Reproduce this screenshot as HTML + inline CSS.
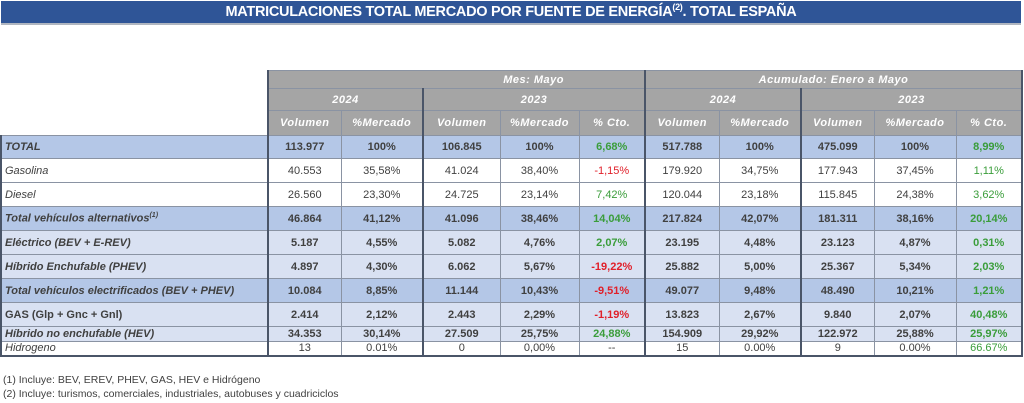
<!DOCTYPE html>
<html><head><meta charset="utf-8">
<style>
body{margin:0;width:1024px;height:403px;background:#fff;font-family:"Liberation Sans",sans-serif;overflow:hidden;position:relative}
.title{position:absolute;left:1px;top:1px;width:1020px;height:22px;background:#2f5597;border-bottom:2px solid #b0b6c0;color:#fff;font-weight:bold;font-size:14.5px;text-align:center;line-height:23px;letter-spacing:-0.3px}
.title sup{font-size:9px;vertical-align:6px;line-height:0}
table{position:absolute;left:0;top:70px;border-collapse:collapse;table-layout:fixed;font-size:11px;color:#404040}
td{border:1px solid #8a93a3;padding:0;text-align:center;white-space:nowrap;overflow:hidden}
td.l{text-align:left;padding-left:3px;font-style:italic}
.h td{background:#a5a5a5;color:#fff;font-style:italic;font-weight:bold;letter-spacing:0.5px}
table tr td.e{border:none;background:#fff}
.b td{background:#b4c7e7;font-weight:bold}
.lt td{background:#d9e1f2;font-weight:bold}
.w td{background:#fff}
.g{color:#3a9d3a!important}
.r{color:#e0202a!important}
.gl{border-left:2px solid #4a5568}
td.first{border-left:2px solid #4a5568}
td.last{border-right:2px solid #4a5568}
.foot{position:absolute;left:3px;font-size:10.5px;color:#404040}
</style></head><body>
<div class="title">MATRICULACIONES TOTAL MERCADO POR FUENTE DE ENERGÍA<sup>(2)</sup>. TOTAL ESPAÑA</div>
<table>
<colgroup><col style="width:267px"><col style="width:73px"><col style="width:82px"><col style="width:77px"><col style="width:79px"><col style="width:66px"><col style="width:74px"><col style="width:82px"><col style="width:73px"><col style="width:82px"><col style="width:66px"></colgroup>
<tr class="h" style="height:18px"><td class="e"></td><td colspan="5" class="gl" style="text-align:right;padding-right:80px">Mes: Mayo</td><td colspan="5" class="gl last">Acumulado: Enero a Mayo</td></tr>
<tr class="h" style="height:22px"><td class="e"></td><td colspan="2" class="gl">2024</td><td colspan="3" class="gl">2023</td><td colspan="2" class="gl">2024</td><td colspan="3" class="gl last">2023</td></tr>
<tr class="h" style="height:25px"><td class="e"></td><td class="gl">Volumen</td><td>%Mercado</td><td class="gl">Volumen</td><td>%Mercado</td><td>% Cto.</td><td class="gl">Volumen</td><td>%Mercado</td><td class="gl">Volumen</td><td>%Mercado</td><td class="last">% Cto.</td></tr>
<tr class="b" style="height:23px"><td class="l first">TOTAL</td><td class="gl">113.977</td><td>100%</td><td class="gl">106.845</td><td>100%</td><td class="g">6,68%</td><td class="gl">517.788</td><td>100%</td><td class="gl">475.099</td><td>100%</td><td class="g last">8,99%</td></tr>
<tr class="w" style="height:24px"><td class="l first">Gasolina</td><td class="gl">40.553</td><td>35,58%</td><td class="gl">41.024</td><td>38,40%</td><td class="r">-1,15%</td><td class="gl">179.920</td><td>34,75%</td><td class="gl">177.943</td><td>37,45%</td><td class="g last">1,11%</td></tr>
<tr class="w" style="height:24px"><td class="l first">Diesel</td><td class="gl">26.560</td><td>23,30%</td><td class="gl">24.725</td><td>23,14%</td><td class="g">7,42%</td><td class="gl">120.044</td><td>23,18%</td><td class="gl">115.845</td><td>24,38%</td><td class="g last">3,62%</td></tr>
<tr class="b" style="height:24px"><td class="l first">Total vehículos alternativos<sup style="font-size:7px">(1)</sup></td><td class="gl">46.864</td><td>41,12%</td><td class="gl">41.096</td><td>38,46%</td><td class="g">14,04%</td><td class="gl">217.824</td><td>42,07%</td><td class="gl">181.311</td><td>38,16%</td><td class="g last">20,14%</td></tr>
<tr class="lt" style="height:24px"><td class="l first">Eléctrico (BEV + E-REV)</td><td class="gl">5.187</td><td>4,55%</td><td class="gl">5.082</td><td>4,76%</td><td class="g">2,07%</td><td class="gl">23.195</td><td>4,48%</td><td class="gl">23.123</td><td>4,87%</td><td class="g last">0,31%</td></tr>
<tr class="lt" style="height:24px"><td class="l first">Híbrido Enchufable (PHEV)</td><td class="gl">4.897</td><td>4,30%</td><td class="gl">6.062</td><td>5,67%</td><td class="r">-19,22%</td><td class="gl">25.882</td><td>5,00%</td><td class="gl">25.367</td><td>5,34%</td><td class="g last">2,03%</td></tr>
<tr class="b" style="height:24px"><td class="l first">Total vehículos electrificados (BEV + PHEV)</td><td class="gl">10.084</td><td>8,85%</td><td class="gl">11.144</td><td>10,43%</td><td class="r">-9,51%</td><td class="gl">49.077</td><td>9,48%</td><td class="gl">48.490</td><td>10,21%</td><td class="g last">1,21%</td></tr>
<tr class="lt" style="height:24px"><td class="l first" style="font-style:normal">GAS (Glp + Gnc + Gnl)</td><td class="gl">2.414</td><td>2,12%</td><td class="gl">2.443</td><td>2,29%</td><td class="r">-1,19%</td><td class="gl">13.823</td><td>2,67%</td><td class="gl">9.840</td><td>2,07%</td><td class="g last">40,48%</td></tr>
<tr class="lt" style="height:15px;line-height:13px"><td class="l first">Híbrido no enchufable (HEV)</td><td class="gl">34.353</td><td>30,14%</td><td class="gl">27.509</td><td>25,75%</td><td class="g">24,88%</td><td class="gl">154.909</td><td>29,92%</td><td class="gl">122.972</td><td>25,88%</td><td class="g last">25,97%</td></tr>
<tr class="w" style="height:14px;line-height:12px;border-bottom:2px solid #4a5568"><td class="l first">Hidrogeno</td><td class="gl">13</td><td>0.01%</td><td class="gl">0</td><td>0,00%</td><td>--</td><td class="gl">15</td><td>0.00%</td><td class="gl">9</td><td>0.00%</td><td class="g last">66.67%</td></tr>
</table>
<div class="foot" style="top:374px">(1) Incluye: BEV, EREV, PHEV, GAS, HEV e Hidrógeno</div>
<div class="foot" style="top:388px">(2) Incluye: turismos, comerciales, industriales, autobuses y cuadriciclos</div>
</body></html>
